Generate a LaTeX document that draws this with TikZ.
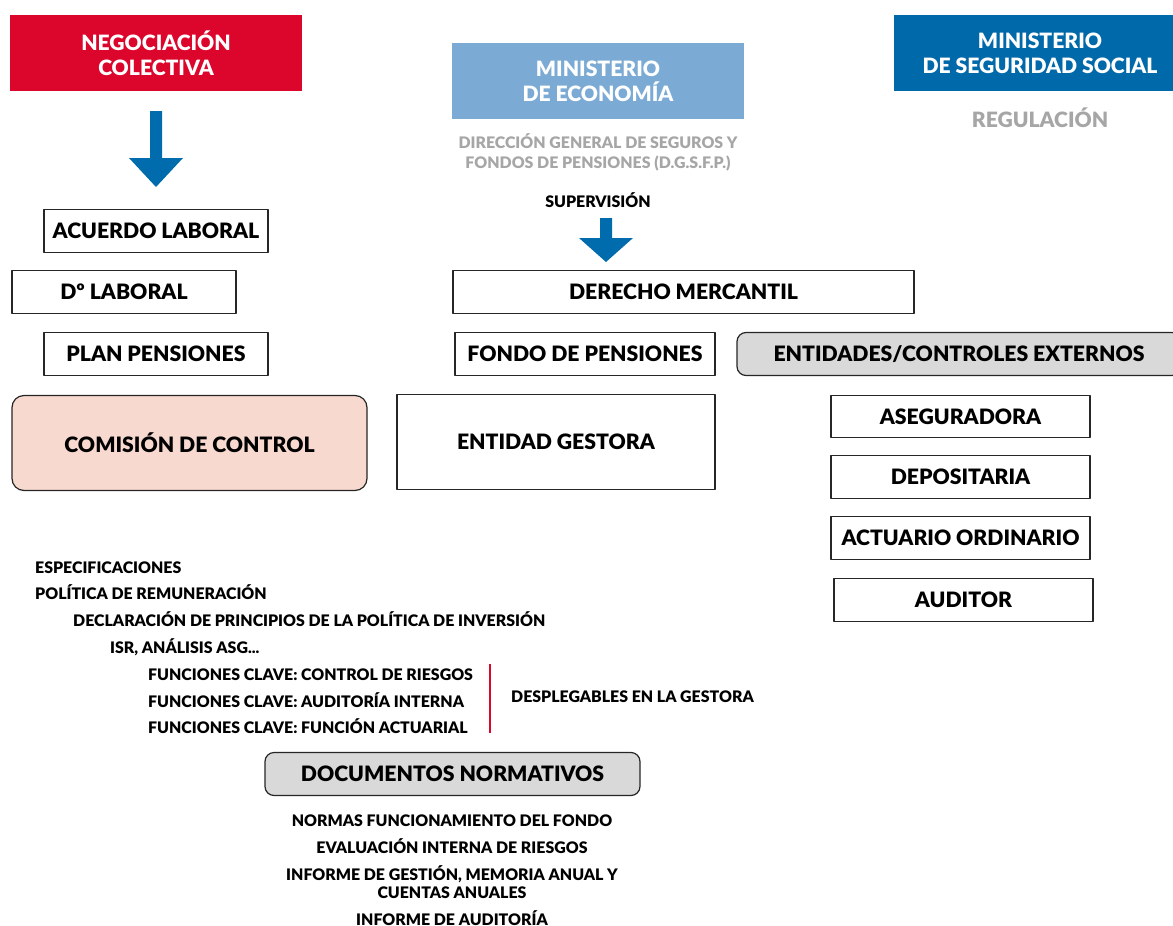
\documentclass[tikz,border=0pt]{standalone}
\usepackage{fontspec}
\setmainfont{Lato}[BoldFont={Lato Black}]
\usetikzlibrary{positioning}
\definecolor{negred}{HTML}{DC052B}
\definecolor{ecoblue}{HTML}{7BAAD4}
\definecolor{ssblue}{HTML}{0069AA}
\definecolor{arrblue}{HTML}{006CAD}
\definecolor{dgsgrey}{HTML}{A6A6A6}
\definecolor{pinkfill}{HTML}{F8D9CF}
\definecolor{boxgrey}{HTML}{D9D9D9}

\begin{document}
\begin{tikzpicture}[x=1pt, y=-1pt, line join=round,
    box/.style={draw=black!85, line width=1.2pt, minimum height=43pt, inner sep=0pt,
      font=\bfseries\fontsize{21.2}{24}\selectfont},
    roundbox/.style={box, rounded corners=9pt, fill=boxgrey},
    hdr/.style={minimum width=292pt, minimum height=76pt, inner sep=0pt, text=white,
      align=center, font=\bfseries\fontsize{21.1}{25}\selectfont},
    txt/.style={anchor=base west, inner sep=0pt, font=\bfseries\fontsize{15.9}{18}\selectfont},
    ctxt/.style={anchor=base, inner sep=0pt, align=center, font=\bfseries\fontsize{15.9}{18}\selectfont},
    blockarrow/.style={fill=arrblue}]
  \useasboundingbox (0,0) rectangle (1173,926);

  % headers
  \node[hdr, fill=negred] (negoc) at (156,53) {NEGOCIACIÓN\\COLECTIVA};
  \node[hdr, fill=ecoblue] (mineco) at (598,81) {MINISTERIO\\DE ECONOMÍA};
  \node[hdr, fill=ssblue] (minss) at (1040,53) {MINISTERIO\\DE SEGURIDAD SOCIAL};
  \node[ctxt, text=dgsgrey, font=\bfseries\fontsize{15.9}{20}\selectfont] (dgsfp) at (598,168)
    {DIRECCIÓN GENERAL DE SEGUROS Y\\FONDOS DE PENSIONES (D.G.S.F.P.)};
  \node[ctxt] (superv) at (598,207) {SUPERVISIÓN};
  \node[anchor=base, inner sep=0pt, text=dgsgrey, font=\bfseries\fontsize{21.1}{24}\selectfont]
    (regul) at (1040,127) {REGULACIÓN};

  % block arrows
  \coordinate (arr1) at (156,111);
  \fill[blockarrow] (arr1) ++(-6,0) -- ++(12,0) -- ++(0,47) -- ++(21,0) -- ++(-27,29)
    -- ++(-27,-29) -- ++(21,0) -- cycle;
  \coordinate (arr2) at (606,218);
  \fill[blockarrow] (arr2) ++(-6,0) -- ++(12,0) -- ++(0,20) -- ++(21,0) -- ++(-27,24)
    -- ++(-27,-24) -- ++(21,0) -- cycle;

  % left column
  \node[box, minimum width=224pt] (acuerdo) at (156,231) {ACUERDO LABORAL};
  \node[box, minimum width=224pt] (dlab) at (124,292) {Dº LABORAL};
  \node[box, minimum width=224pt] (plan) at (156,354) {PLAN PENSIONES};
  \node[box, rounded corners=12pt, fill=pinkfill, minimum width=355pt, minimum height=95pt]
    (comision) at (189.5,443) {COMISIÓN DE CONTROL};

  % middle column
  \node[box, minimum width=461pt] (mercantil) at (683.5,292) {DERECHO MERCANTIL};
  \node[box, minimum width=260pt] (fondo) at (585,354) {FONDO DE PENSIONES};
  \node[box, minimum width=318pt, minimum height=95pt] (gestora) at (556,442) {ENTIDAD GESTORA};

  % external entities
  \node[roundbox, minimum width=444pt] (externos) at (959,354) {ENTIDADES/CONTROLES EXTERNOS};
  \node[box, minimum width=259pt, minimum height=42pt] (aseg) at (960.5,416.5) {ASEGURADORA};
  \node[box, minimum width=259pt] (depos) at (960.5,477) {DEPOSITARIA};
  \node[box, minimum width=259pt] (actuario) at (960.5,538) {ACTUARIO ORDINARIO};
  \node[box, minimum width=259pt] (auditor) at (963.5,600) {AUDITOR};

  % list of documents
  \node[txt] (espec) at (35,573) {ESPECIFICACIONES};
  \node[txt] (remun) at (35,599) {POLÍTICA DE REMUNERACIÓN};
  \node[txt] (declar) at (73,626) {DECLARACIÓN DE PRINCIPIOS DE LA POLÍTICA DE INVERSIÓN};
  \node[txt] (isr) at (110,653) {ISR, ANÁLISIS ASG...};
  \node[txt] (fcriesgos) at (148,680) {FUNCIONES CLAVE: CONTROL DE RIESGOS};
  \node[txt] (fcaudit) at (148,707) {FUNCIONES CLAVE: AUDITORÍA INTERNA};
  \node[txt] (fcactuar) at (148,733) {FUNCIONES CLAVE: FUNCIÓN ACTUARIAL};
  \coordinate (bartop) at (490,664);
  \coordinate (barbot) at (490,733);
  \draw[negred, line width=2.5pt] (bartop) -- (barbot);
  \node[txt] (despleg) at (511,702) {DESPLEGABLES EN LA GESTORA};

  % normative documents
  \node[roundbox, minimum width=375pt] (docnorm) at (452.5,774) {DOCUMENTOS NORMATIVOS};
  \node[ctxt] (normas) at (452,826) {NORMAS FUNCIONAMIENTO DEL FONDO};
  \node[ctxt] (evalua) at (452,853) {EVALUACIÓN INTERNA DE RIESGOS};
  \node[ctxt] (informe) at (452,898) {INFORME DE GESTIÓN, MEMORIA ANUAL Y\\CUENTAS ANUALES};
  \node[ctxt] (infaud) at (452,925) {INFORME DE AUDITORÍA};
\end{tikzpicture}
\end{document}
